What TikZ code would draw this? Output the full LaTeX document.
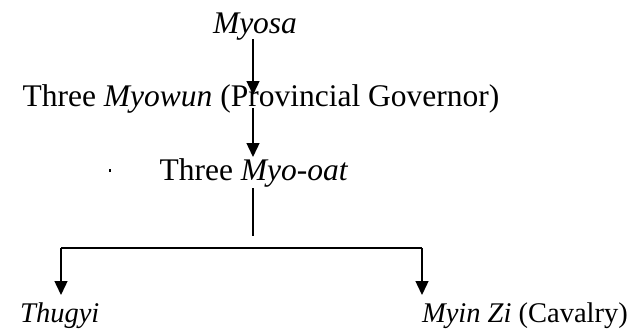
\documentclass[tikz,border=0pt]{standalone}
\usepackage{fontspec}
\setmainfont{Liberation Serif}
\usetikzlibrary{arrows.meta}
\begin{document}
\begin{tikzpicture}[x=1pt,y=-1pt,
  lbl/.style={inner sep=0pt, anchor=base, font=\fontsize{31.5}{36}\selectfont},
  leaflbl/.style={lbl, font=\fontsize{28.5}{33}\selectfont},
  conn/.style={line width=1.4pt},
  arr/.style={conn, -{Triangle[length=14pt,width=13pt]}}]
  \useasboundingbox (0,0) rectangle (629,332);

  % ranks of the hierarchy
  \node[lbl] (myosa)  at (255,33)  {\textit{Myosa}};
  \node[lbl] (myowun) at (261,106) {Three \textit{Myowun} (Provincial Governor)};
  \node[lbl] (myooat) at (254,180) {Three \textit{Myo-oat}};
  \node[leaflbl, anchor=base west] (thugyi) at (20,322)  {\textit{Thugyi}};
  \node[leaflbl, anchor=base east] (myinzi) at (628,322) {\textit{Myin Zi} (Cavalry)};

  % points on the connectors
  \coordinate (a1s) at (253,39);
  \coordinate (a1e) at (253,95);
  \coordinate (a2s) at (253,108);
  \coordinate (a2e) at (253,157);
  \coordinate (stemtop) at (253,188);
  \coordinate (stembot) at (253,236);
  \coordinate (barL) at (61,248);
  \coordinate (barR) at (422,248);
  \coordinate (tipL) at (61,295);
  \coordinate (tipR) at (422,295);

  \draw[arr] (a1s) -- (a1e);
  \draw[arr] (a2s) -- (a2e);
  \draw[conn] (stemtop) -- (stembot);
  \draw[conn] (barL) -- (barR);
  \draw[arr] (barL) -- (tipL);
  \draw[arr] (barR) -- (tipR);

  % small stray mark
  \fill (108.5,169) rectangle (110.5,172);
\end{tikzpicture}
\end{document}
